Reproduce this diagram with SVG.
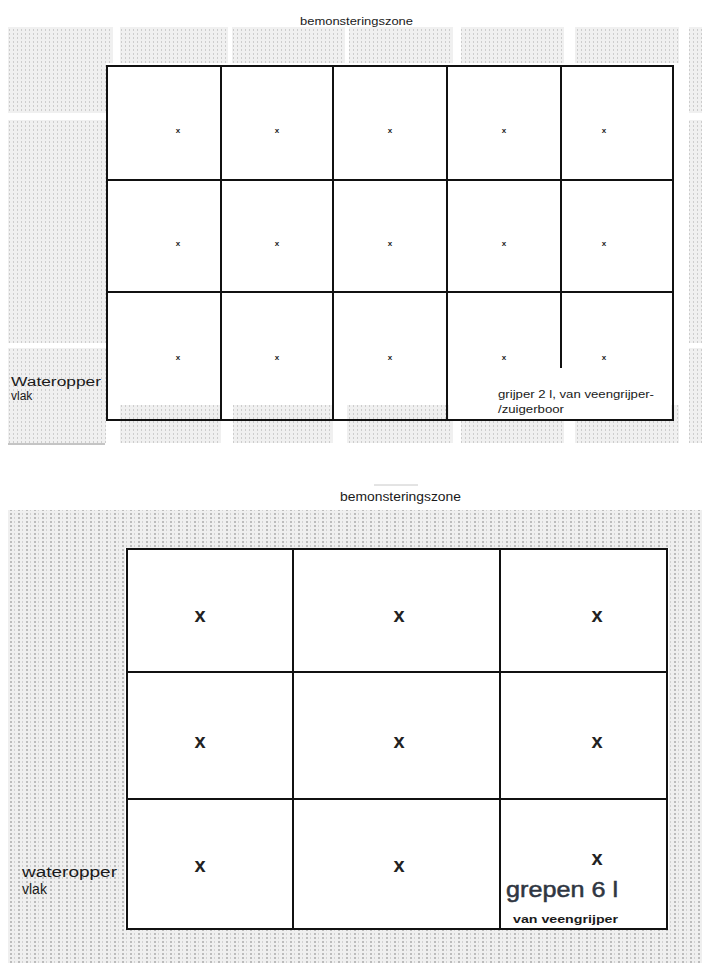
<svg xmlns="http://www.w3.org/2000/svg" width="702" height="965" viewBox="0 0 702 965">
<style>
.t{font-family:"Liberation Sans",Arial,sans-serif;fill:#1a1a1a}
.cell{fill:none;stroke:#111;stroke-width:2}
.xs{font-family:"Liberation Sans",Arial,sans-serif;font-weight:bold;font-size:8px;fill:#222;text-anchor:middle}
.xl{font-family:"Liberation Sans",Arial,sans-serif;font-weight:bold;font-size:20px;fill:#222;text-anchor:middle}
.g1{fill:url(#p1)}
.g2{fill:url(#p2)}
</style>
<defs>
<pattern id="p1" width="4" height="4" patternUnits="userSpaceOnUse">
<rect width="4" height="4" fill="#f0f0f0"/>
<rect x="1" y="1" width="1" height="2" fill="#cdcdcd"/>
</pattern>
<pattern id="p2" width="8" height="4" patternUnits="userSpaceOnUse">
<rect width="8" height="4" fill="#efefef"/>
<rect x="2" y="1" width="2" height="2" fill="#bcbcbc"/>
<rect x="6" y="1" width="1" height="2" fill="#d2d2d2"/>
</pattern>
</defs>
<rect width="702" height="965" fill="#ffffff"/>

<!-- top diagram background -->
<g id="top-background">
<rect class="g1" x="8" y="27" width="105" height="36"/>
<rect class="g1" x="120" y="27" width="108" height="36"/>
<rect class="g1" x="232" y="27" width="113" height="36"/>
<rect class="g1" x="349" y="27" width="104" height="36"/>
<rect class="g1" x="461" y="27" width="103" height="36"/>
<rect class="g1" x="575" y="27" width="104" height="36"/>
<rect class="g1" x="689" y="27" width="13" height="36"/>
<rect class="g1" x="8" y="63" width="98" height="50"/>
<rect class="g1" x="8" y="120" width="98" height="223"/>
<rect class="g1" x="8" y="348" width="98" height="95"/>
<rect class="g1" x="689" y="63" width="13" height="50"/>
<rect class="g1" x="689" y="120" width="13" height="223"/>
<rect class="g1" x="689" y="348" width="13" height="95"/>
<rect class="g1" x="120" y="405" width="101" height="38"/>
<rect class="g1" x="233" y="405" width="100" height="38"/>
<rect class="g1" x="347" y="405" width="106" height="38"/>
<rect class="g1" x="461" y="405" width="103" height="38"/>
<rect class="g1" x="575" y="405" width="104" height="38"/>
<rect x="449" y="370" width="222" height="49" fill="#ffffff"/>
<line x1="8" y1="444" x2="105" y2="444" stroke="#8a8a8a" stroke-width="1"/>
</g>

<text class="t" x="300" y="25" font-size="11" textLength="113" lengthAdjust="spacingAndGlyphs">bemonsteringszone</text>

<g id="top-grid">
<rect class="cell" x="107" y="66" width="566" height="354"/>
<line class="cell" x1="221" y1="66" x2="221" y2="420"/>
<line class="cell" x1="333" y1="66" x2="333" y2="420"/>
<line class="cell" x1="447" y1="66" x2="447" y2="420"/>
<line class="cell" x1="561" y1="66" x2="561" y2="368"/>
<line class="cell" x1="107" y1="180" x2="673" y2="180"/>
<line class="cell" x1="107" y1="292" x2="673" y2="292"/>
</g>

<g id="top-marks">
<text class="xs" x="178" y="133">x</text>
<text class="xs" x="277" y="133">x</text>
<text class="xs" x="390" y="133">x</text>
<text class="xs" x="504" y="133">x</text>
<text class="xs" x="604" y="133">x</text>
<text class="xs" x="178" y="246">x</text>
<text class="xs" x="277" y="246">x</text>
<text class="xs" x="390" y="246">x</text>
<text class="xs" x="504" y="246">x</text>
<text class="xs" x="604" y="246">x</text>
<text class="xs" x="178" y="360">x</text>
<text class="xs" x="277" y="360">x</text>
<text class="xs" x="390" y="360">x</text>
<text class="xs" x="504" y="360">x</text>
<text class="xs" x="604" y="360">x</text>
</g>

<g id="top-labels">
<text class="t" x="11" y="386" font-size="12" textLength="90" lengthAdjust="spacingAndGlyphs">Wateropper</text>
<text class="t" x="11" y="400" font-size="12">vlak</text>
<text class="t" x="498" y="398" font-size="10" textLength="156" lengthAdjust="spacingAndGlyphs">grijper 2 l, van veengrijper-</text>
<text class="t" x="498" y="413" font-size="10" textLength="66" lengthAdjust="spacingAndGlyphs">/zuigerboor</text>
</g>

<!-- bottom diagram background -->
<g id="bottom-background">
<rect class="g2" x="8" y="510" width="694" height="38"/>
<rect class="g2" x="8" y="548" width="117" height="381"/>
<rect class="g2" x="669" y="548" width="33" height="381"/>
<rect class="g2" x="8" y="929" width="694" height="34"/>
<line x1="374" y1="485" x2="418" y2="485" stroke="#c8c8c8" stroke-width="1"/>
</g>

<text class="t" x="340" y="501" font-size="12" textLength="121" lengthAdjust="spacingAndGlyphs">bemonsteringszone</text>

<g id="bottom-grid">
<rect x="127" y="549" width="540" height="380" fill="#ffffff" stroke="#111" stroke-width="2"/>
<line class="cell" x1="293" y1="549" x2="293" y2="929"/>
<line class="cell" x1="500" y1="549" x2="500" y2="929"/>
<line class="cell" x1="127" y1="672" x2="667" y2="672"/>
<line class="cell" x1="127" y1="799" x2="667" y2="799"/>
</g>

<g id="bottom-marks">
<text class="xl" x="200" y="622">x</text>
<text class="xl" x="399" y="622">x</text>
<text class="xl" x="597" y="622">x</text>
<text class="xl" x="200" y="748">x</text>
<text class="xl" x="399" y="748">x</text>
<text class="xl" x="597" y="748">x</text>
<text class="xl" x="200" y="872">x</text>
<text class="xl" x="399" y="872">x</text>
<text class="xl" x="597" y="865">x</text>
</g>

<g id="bottom-labels">
<text class="t" x="22" y="877" font-size="14" textLength="95" lengthAdjust="spacingAndGlyphs">wateropper</text>
<text class="t" x="22" y="894" font-size="14">vlak</text>
<text class="t" x="506" y="897" font-size="22" style="fill:#2f3642;stroke:#2f3642;stroke-width:0.5" textLength="112" lengthAdjust="spacingAndGlyphs">grepen 6 l</text>
<text class="t" x="513" y="923" font-size="10" font-weight="bold" textLength="105" lengthAdjust="spacingAndGlyphs">van veengrijper</text>
</g>
</svg>
